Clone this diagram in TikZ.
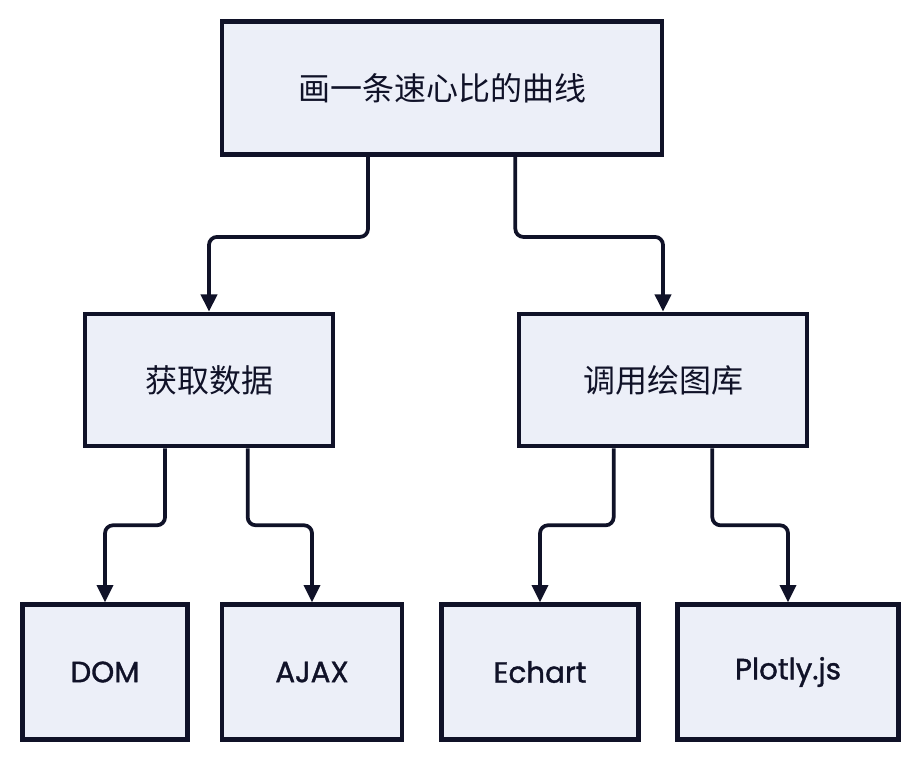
\documentclass[tikz,border=0pt]{standalone}
\usepackage{fontspec}
\setmainfont{Poppins}[FakeBold=1.2]
\newfontfamily\cjk{Noto Sans CJK SC}
\usepackage{xcolor}
\usepackage{tikz}
\usetikzlibrary{arrows.meta, positioning}
\definecolor{inkblue}{RGB}{16,18,40}
\definecolor{boxfill}{RGB}{236,239,248}

\begin{document}
\begin{tikzpicture}[x=0.75pt, y=-0.75pt, font=\fontsize{22}{26}\selectfont, text=inkblue,
    b/.style={draw=inkblue, line width=3.4pt, fill=boxfill, minimum height=99pt, align=center, inner sep=0pt},
    zh/.style={font=\cjk\fontsize{24}{28}\selectfont},
    arr/.style={-{Triangle[length=13pt, width=12pt]}, line width=2.8pt, draw=inkblue, rounded corners=6pt}]
    \useasboundingbox (0,0) rectangle (920,760);
    % tree nodes
    \node[b, zh, minimum width=330pt, minimum height=100pt] (top) at (442,88) {画一条速心比的曲线};
    \node[b, zh, minimum width=186pt] (get) at (209,380) {获取数据};
    \node[b, zh, minimum width=216pt] (lib) at (663,380) {调用绘图库};
    \node[b, minimum width=124pt, minimum height=101pt] (dom) at (105,672) {DOM};
    \node[b, minimum width=135pt, minimum height=101pt] (ajax) at (312,672) {AJAX};
    \node[b, minimum width=148pt, minimum height=101pt] (echart) at (540,672) {Echart};
    \node[b, minimum width=166pt, minimum height=101pt] (plotly) at (788,672) {Plotly.js};
    % connectors
    \draw[arr] ([xshift=-55.5pt]top.south) -- ++(0,80) -| (get.north);
    \draw[arr] ([xshift=55pt]top.south) -- ++(0,80) -| (lib.north);
    \draw[arr] ([xshift=-33pt]get.south) -- ++(0,77) -| (dom.north);
    \draw[arr] ([xshift=29pt]get.south) -- ++(0,77) -| (ajax.north);
    \draw[arr] ([xshift=-37pt]lib.south) -- ++(0,77) -| (echart.north);
    \draw[arr] ([xshift=37pt]lib.south) -- ++(0,77) -| (plotly.north);
\end{tikzpicture}
\end{document}
